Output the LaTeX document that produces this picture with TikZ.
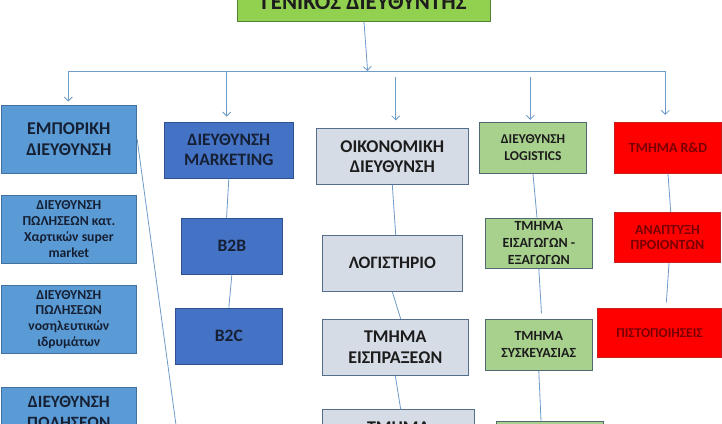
\documentclass[tikz,border=0pt]{standalone}
\usepackage{fontspec}
\setmainfont{Carlito}
\usetikzlibrary{arrows.meta,calc}
\definecolor{gmfill}{RGB}{146,208,80}
\definecolor{gmline}{RGB}{84,130,53}
\definecolor{empfill}{RGB}{91,155,213}
\definecolor{empline}{RGB}{65,113,156}
\definecolor{mktfill}{RGB}{68,114,196}
\definecolor{mktline}{RGB}{47,82,143}
\definecolor{oikfill}{RGB}{214,220,229}
\definecolor{oikline}{RGB}{84,110,140}
\definecolor{grfill}{RGB}{169,209,142}
\definecolor{grline}{RGB}{80,105,110}
\definecolor{rdfill}{RGB}{255,0,0}
\definecolor{rdline}{RGB}{200,30,30}
\definecolor{rdtext}{RGB}{120,0,0}
\definecolor{navytext}{RGB}{22,32,52}
\definecolor{darktext}{RGB}{28,28,28}
\definecolor{conncol}{RGB}{110,155,200}
\tikzset{
  box/.style={draw, line width=0.9bp, inner sep=0pt, align=center},
  gmbox/.style={box, fill=gmfill, draw=gmline, text=darktext},
  empbox/.style={box, fill=empfill, draw=empline, text=navytext},
  mktbox/.style={box, fill=mktfill, draw=mktline, text=navytext},
  oikbox/.style={box, fill=oikfill, draw=oikline, text=darktext},
  grbox/.style={box, fill=grfill, draw=grline, text=darktext},
  rdbox/.style={box, fill=rdfill, draw=rdline, text=rdtext},
  fs/.style 2 args={font=\bfseries\fontsize{#1}{#2}\selectfont},
  wh/.style 2 args={minimum width=#1bp, minimum height=#2bp},
  link/.style={draw=conncol, line width=0.8bp},
  arr/.style={link, -{Straight Barb[length=4bp,width=8bp]}},
}
\begin{document}
\begin{tikzpicture}[x=1bp,y=-1bp]
\useasboundingbox (0,0) rectangle (722,423);
\fill[white] (0,0) rectangle (722,423);
\clip (0,0) rectangle (722,423);

% top
\node[gmbox, wh={253.4}{38.5}, fs={23}{27}] (top) at (364,2.25) {ΓΕΝΙΚΟΣ ΔΙΕΥΘΥΝΤΗΣ};

% first level
\node[empbox, wh={135.7}{68.3}, fs={18}{21}] (emp) at (68.85,139.15) {ΕΜΠΟΡΙΚΗ\\ΔΙΕΥΘΥΝΣΗ};
\node[mktbox, wh={129}{56.3}, fs={17.5}{20.3}] (mkt) at (228.8,150.15) {ΔΙΕΥΘΥΝΣΗ\\MARKETING};
\node[oikbox, wh={152}{56}, fs={18}{20.3}] (oik) at (392.3,156.3) {ΟΙΚΟΝΟΜΙΚΗ\\ΔΙΕΥΘΥΝΣΗ};
\node[grbox, wh={107.4}{51}, fs={13.6}{16.7}] (log) at (533,147.8) {ΔΙΕΥΘΥΝΣΗ\\LOGISTICS};
\node[rdbox, wh={107.4}{51}, fs={14}{17}] (rd) at (668,147.8) {ΤΜΗΜΑ R\&D};

% commercial
\node[empbox, wh={135.7}{68.7}, fs={13.75}{16}] (e1) at (68.85,229.35) {ΔΙΕΥΘΥΝΣΗ\\ΠΩΛΗΣΕΩΝ κατ.\\Χαρτικών super\\market};
\node[empbox, wh={135.7}{68.4}, fs={13.75}{16}] (e2) at (68.85,319.5) {ΔΙΕΥΘΥΝΣΗ\\ΠΩΛΗΣΕΩΝ\\νοσηλευτικών\\ιδρυμάτων};
\node[empbox, minimum width=135.7bp, anchor=north, inner ysep=8.8bp, fs={17.3}{21}] (e3) at (68.85,387.3) {ΔΙΕΥΘΥΝΣΗ\\ΠΩΛΗΣΕΩΝ};

% marketing
\node[mktbox, wh={101.7}{56.3}, fs={17.5}{21}] (b2b) at (231.85,246.15) {B2B};
\node[mktbox, wh={107.7}{56.3}, fs={17.5}{21}] (b2c) at (228.85,336.15) {B2C};

% finance
\node[oikbox, wh={140}{56}, fs={17.5}{21}] (logi) at (392.3,263.3) {ΛΟΓΙΣΤΗΡΙΟ};
\node[oikbox, wh={146}{56}, fs={18}{20.7}] (eisp) at (395.3,347.3) {ΤΜΗΜΑ\\ΕΙΣΠΡΑΞΕΩΝ};
\node[oikbox, minimum width=152bp, anchor=north, inner ysep=11.7bp, fs={18}{21}] (tm4) at (398.3,409.3) {ΤΜΗΜΑ};

% logistics
\node[grbox, wh={107}{50}, fs={14}{17}] (eisag) at (538.8,243) {ΤΜΗΜΑ\\ΕΙΣΑΓΩΓΩΝ -\\ΕΞΑΓΩΓΩΝ};
\node[grbox, wh={107}{51}, fs={14}{17.3}] (sysk) at (538.8,344.8) {ΤΜΗΜΑ\\ΣΥΣΚΕΥΑΣΙΑΣ};
\node[grbox, minimum width=106.6bp, minimum height=40bp, anchor=north] (g4) at (550,420.7) {};

% R&D
\node[rdbox, wh={106.4}{50.4}, fs={14}{15.7}] (anap) at (667.5,237.5) {ΑΝΑΠΤΥΞΗ\\ΠΡΟΙΟΝΤΩΝ};
\node[rdbox, wh={124.4}{49.2}, fs={13.5}{16}] (pist) at (659.5,333.1) {ΠΙΣΤΟΠΟΙΗΣΕΙΣ};

% connectors
\coordinate (hub) at (367.6,71);
\coordinate (hl) at (68.3,71);
\coordinate (hr) at (665.3,71);
\coordinate (d2) at (226.7,71);
\coordinate (d3) at (395.7,77);
\coordinate (d4) at (530.3,77);
\coordinate (eend) at (177.1,433);

\draw[arr] (top.south) -- (hub);
\draw[link] (hl) -- (hr);
\draw[arr, shorten >=3bp] (hl) -- (hl |- emp.north);
\draw[arr, shorten >=5bp] (d2) -- (d2 |- mkt.north);
\draw[arr, shorten >=7.5bp] (d3) -- (d3 |- oik.north);
\draw[arr, shorten >=2bp] (d4) -- (d4 |- log.north);
\draw[arr, shorten >=7bp] (hr) -- (hr |- rd.north);

\draw[link] (emp.east) -- (eend);
\draw[link] (mkt.south) -- ([xshift=-5.3bp]b2b.north);
\draw[link] (b2b.south) -- (b2c.north);
\draw[link] (oik.south) -- ([xshift=3.4bp]logi.north);
\draw[link] (logi.south) -- ([xshift=5.4bp]eisp.north);
\draw[link] (eisp.south) -- ([xshift=2.4bp]tm4.north);
\draw[link] (log.south) -- ([xshift=-1.8bp]eisag.north);
\draw[link, shorten >=5.6bp] (eisag.south) -- ([xshift=3bp]sysk.north);
\draw[link] (sysk.south) -- ([xshift=-9bp]g4.north);
\draw[link] (rd.south) -- ([xshift=3.2bp]anap.north);
\draw[link, shorten >=5.8bp] ([xshift=1.5bp]anap.south) -- ([xshift=6.5bp]pist.north);
\end{tikzpicture}
\end{document}
